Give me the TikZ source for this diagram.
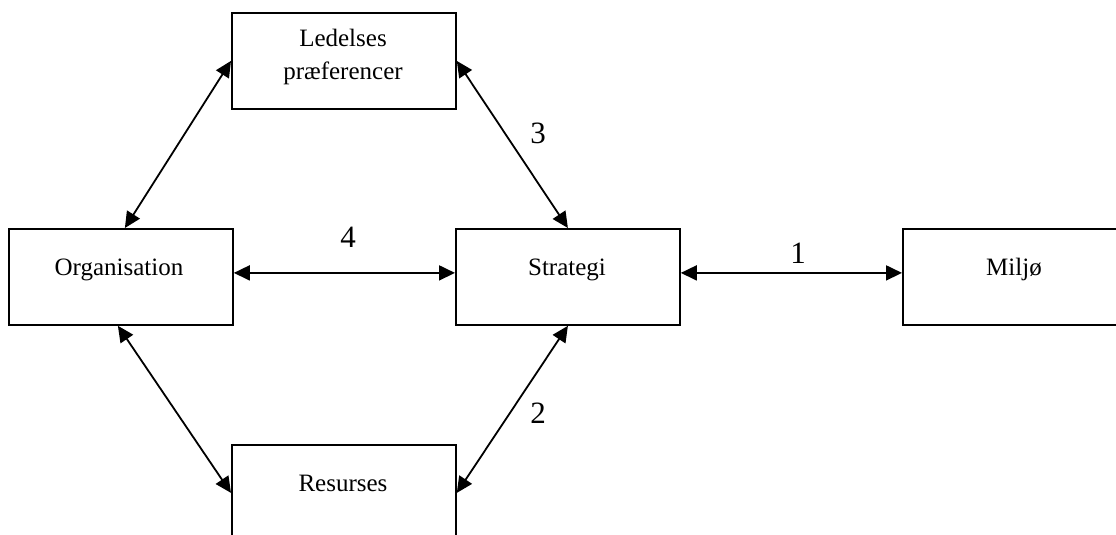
\documentclass[tikz,border=0pt]{standalone}
\usepackage{fontspec}
\setmainfont{Liberation Serif}
\usetikzlibrary{arrows.meta}
\begin{document}
\begin{tikzpicture}[x=1pt,y=-1pt,
  box/.style={draw,line width=1.8pt,minimum width=224pt,minimum height=96pt,inner sep=0pt,anchor=north west},
  txt/.style={font=\fontsize{25}{30}\selectfont,anchor=base,inner sep=0pt},
  num/.style={font=\fontsize{31}{36}\selectfont,anchor=base,inner sep=0pt},
  link/.style={line width=1.8pt,{Triangle[length=16pt,width=15pt]}-{Triangle[length=16pt,width=15pt]}}]
\useasboundingbox (0,0) rectangle (1116,535);
\clip (0,0) rectangle (1116,535);
% boxes
\node[box] (led) at (231,12) {};
\node[box] (org) at (8,228) {};
\node[box] (strat) at (455,228) {};
\node[box] (milj) at (902,228) {};
\node[box] (res) at (231,444) {};
% texts
\node[txt] (tled1) at (343,47) {Ledelses};
\node[txt] (tled2) at (343,79) {præferencer};
\node[txt] (torg) at (119,275) {Organisation};
\node[txt] (tstr) at (567,275) {Strategi};
\node[txt] (tmil) at (1014,275) {Miljø};
\node[txt] (tres) at (343,491) {Resurses};
% connectors
\draw[link] ([xshift=4pt]org.north) -- (led.west);
\draw[link] ([xshift=-3pt]org.south) -- (res.west);
\draw[link] (led.east) -- (strat.north);
\draw[link] (strat.south) -- (res.east);
\draw[link] ([yshift=4pt]org.east) -- ([yshift=4pt]strat.west);
\draw[link] ([yshift=4pt]strat.east) -- ([yshift=4pt]milj.west);
% numbers
\node[num] (n4) at (348,247) {4};
\node[num] (n1) at (798,263) {1};
\node[num] (n3) at (538,143) {3};
\node[num] (n2) at (538,423) {2};
\end{tikzpicture}
\end{document}
